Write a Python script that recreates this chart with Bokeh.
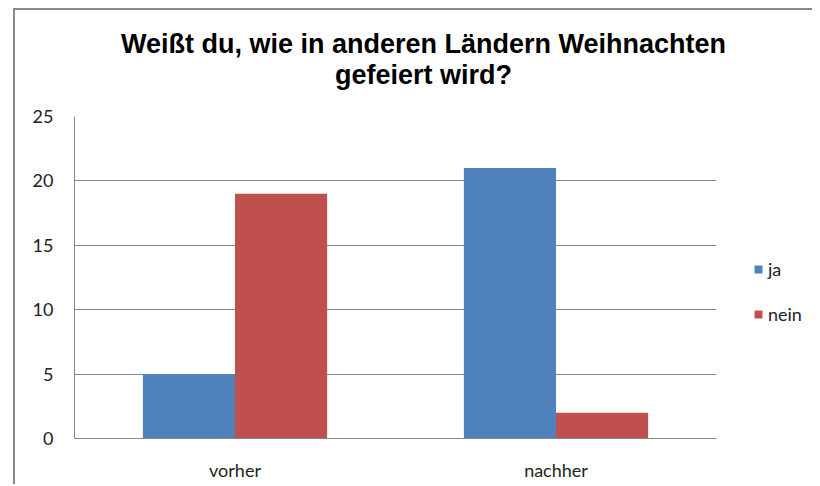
from bokeh.plotting import figure
from bokeh.models import ColumnDataSource, FactorRange, Legend, LegendItem, Div, Spacer
from bokeh.layouts import row, column
from bokeh.transform import dodge
from bokeh.embed import file_html
from bokeh.resources import INLINE

title_lines = ["Weißt du, wie in anderen Ländern Weihnachten", "gefeiert wird?"]
categories = ["vorher", "nachher"]
series_names = ["ja", "nein"]
ja = [5, 21]
nein = [19, 2]
y_ticks = [0, 5, 10, 15, 20, 25]

colors = ["#4F81BD", "#C0504D"]
grid_gray = "#878787"
frame_gray = "#8a8a8a"
tick_font = "Lato"

src = ColumnDataSource(dict(cat=categories, ja=ja, nein=nein))

p = figure(
    x_range=FactorRange(*categories, range_padding=0),
    y_range=(0, 25),
    frame_width=642, frame_height=322,
    min_border_left=59, min_border_top=16, min_border_bottom=38, min_border_right=96,
    output_backend="svg", toolbar_location=None,
)
p.outline_line_color = None

bw = 0.287
r_ja = p.vbar(x=dodge("cat", -bw / 2, range=p.x_range), top="ja", width=bw, source=src,
              fill_color=colors[0], line_color=None)
r_nein = p.vbar(x=dodge("cat", bw / 2, range=p.x_range), top="nein", width=bw, source=src,
                fill_color=colors[1], line_color=None)

p.xgrid.grid_line_color = None
p.ygrid.grid_line_color = grid_gray
p.ygrid.grid_line_width = 1
p.yaxis.ticker = y_ticks

for ax in (p.xaxis[0], p.yaxis[0]):
    ax.axis_line_color = grid_gray
    ax.major_tick_line_color = None
    ax.minor_tick_line_color = None
    ax.major_label_text_font = tick_font
    ax.major_label_text_font_size = "18px"
    ax.major_label_text_color = "#222222"
p.yaxis.major_label_standoff = 15
p.xaxis.major_label_standoff = 14

legend = Legend(
    items=[LegendItem(label=series_names[0], renderers=[r_ja]),
           LegendItem(label=series_names[1], renderers=[r_nein])],
    location=(37, 113),
    glyph_width=10, glyph_height=10, label_standoff=5, spacing=23,
    padding=0, margin=0, border_line_color=None, background_fill_alpha=0,
    label_text_font=tick_font, label_text_font_size="18px", label_text_color="#222222",
)
p.add_layout(legend, "right")

title_html = (
    f'<div style="box-sizing:border-box;width:797px;height:92px;border-top:2px solid {frame_gray};'
    'padding-top:19px;padding-left:20px;text-align:center;font-family:\'Liberation Sans\';'
    'font-weight:bold;font-size:27px;line-height:31px;color:#000;white-space:nowrap;">'
    + "<br>".join(title_lines) + "</div>"
)
title_div = Div(text=title_html, width=797, height=92, margin=0)
left_line = Div(text=f'<div style="width:2px;height:476px;background:{frame_gray};"></div>',
                width=2, height=476, margin=0)

layout = column(
    Spacer(width=10, height=8, margin=0),
    row(Spacer(width=13, height=476, margin=0), left_line,
        column(title_div, p, spacing=0, margin=0), spacing=0, margin=0),
    spacing=0, margin=0,
)

open("out.html", "w").write(file_html(layout, INLINE))
